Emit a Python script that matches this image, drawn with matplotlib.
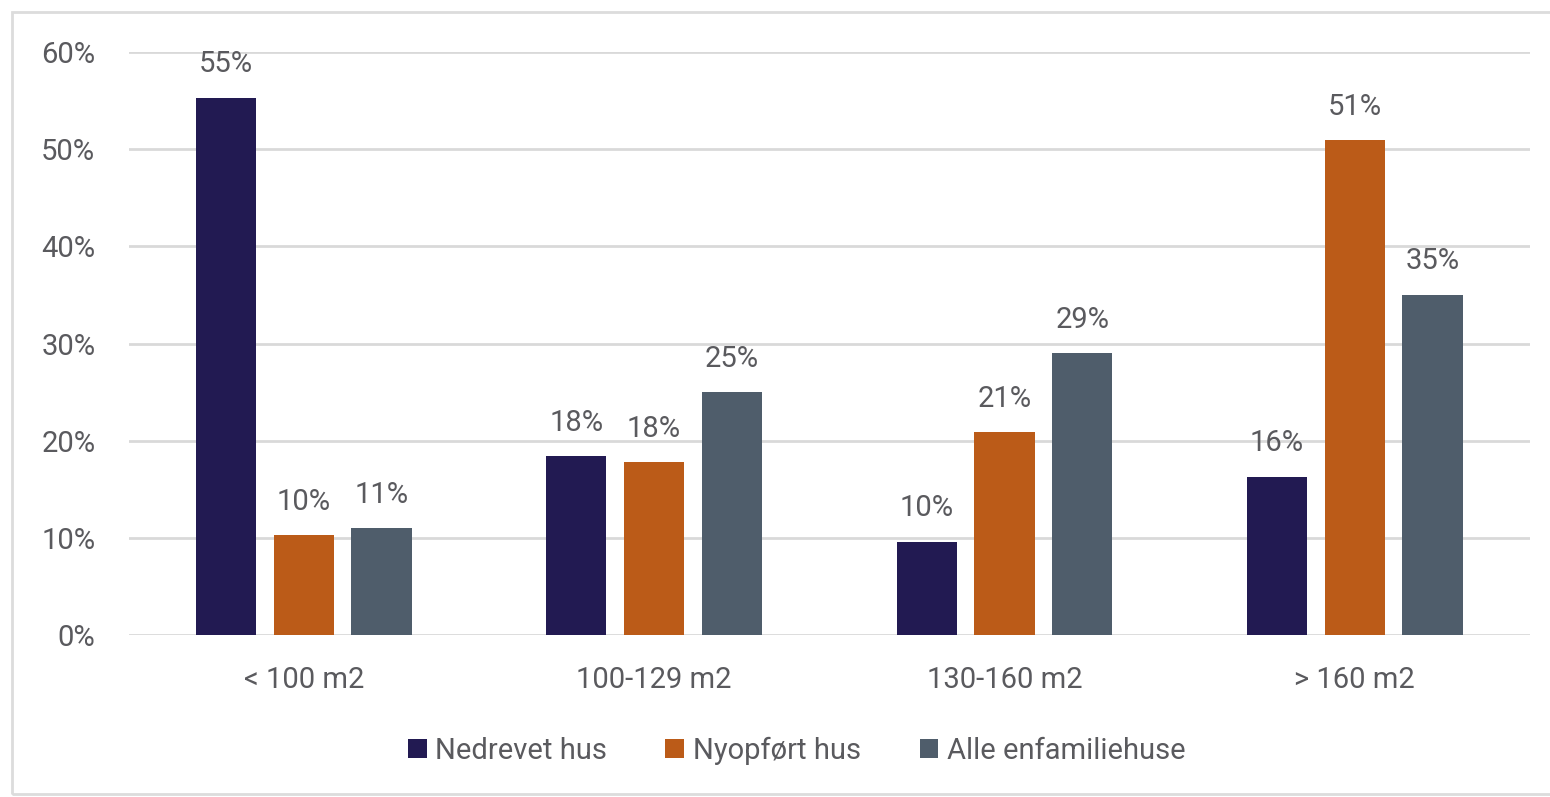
import matplotlib.pyplot as plt
from matplotlib.patches import Rectangle
import numpy as np

plt.rcParams['font.family'] = ['Roboto', 'DejaVu Sans']

categories = ['< 100 m2', '100-129 m2', '130-160 m2', '> 160 m2']
series = ['Nedrevet hus', 'Nyopført hus', 'Alle enfamiliehuse']
nedrevet = [55.3, 18.4, 9.6, 16.3]
nyopfoert = [10.3, 17.8, 20.9, 50.9]
alle = [11.0, 25.0, 29.0, 35.0]
yticks = [0, 10, 20, 30, 40, 50, 60]

colors = ['#221a52', '#bb5b18', '#4f5d6b']
text_col = '#5a5a5e'
fs = 21

fig = plt.figure(figsize=(15.5, 7.97), dpi=100)
ax = fig.add_axes([0.083, 0.203, 0.904, 0.732])

# light frame around the whole chart
fig.patches.append(Rectangle((12 / 1550, 3 / 797), 1.2, 782 / 797,
                             transform=fig.transFigure, fill=False,
                             edgecolor='#dcdcdc', linewidth=2))

x = np.arange(len(categories))
width = 0.172
offset = 0.222
for i, (vals, name) in enumerate(zip([nedrevet, nyopfoert, alle], series)):
    pos = x + (i - 1) * offset
    bars = ax.bar(pos, vals, width, color=colors[i], label=name, zorder=3)
    for b, v in zip(bars, vals):
        ax.text(b.get_x() + b.get_width() / 2, v + 2.0, f'{v:.0f}%',
                ha='center', va='bottom', fontsize=fs, color=text_col)

ax.set_xlim(-0.5, 3.5)
ax.set_ylim(0, 60)
ax.set_yticks(yticks)
ax.set_yticklabels([f'{t}%' for t in yticks])
ax.set_xticks(x)
ax.set_xticklabels(categories)
ax.tick_params(axis='both', length=0, labelsize=fs, labelcolor=text_col)
ax.tick_params(axis='y', pad=24)
ax.tick_params(axis='x', pad=22)
ax.grid(axis='y', color='#d9d9d9', linewidth=2, zorder=0)
for s in ax.spines.values():
    s.set_visible(False)
ax.set_axisbelow(True)

fig.legend(loc='center', bbox_to_anchor=(0.514, 0.058), ncol=3, frameon=False,
           fontsize=fs, labelcolor=text_col, handlelength=0.65, handleheight=0.65,
           handletextpad=0.3, columnspacing=2.0)

fig.savefig('out.png', dpi=100)
